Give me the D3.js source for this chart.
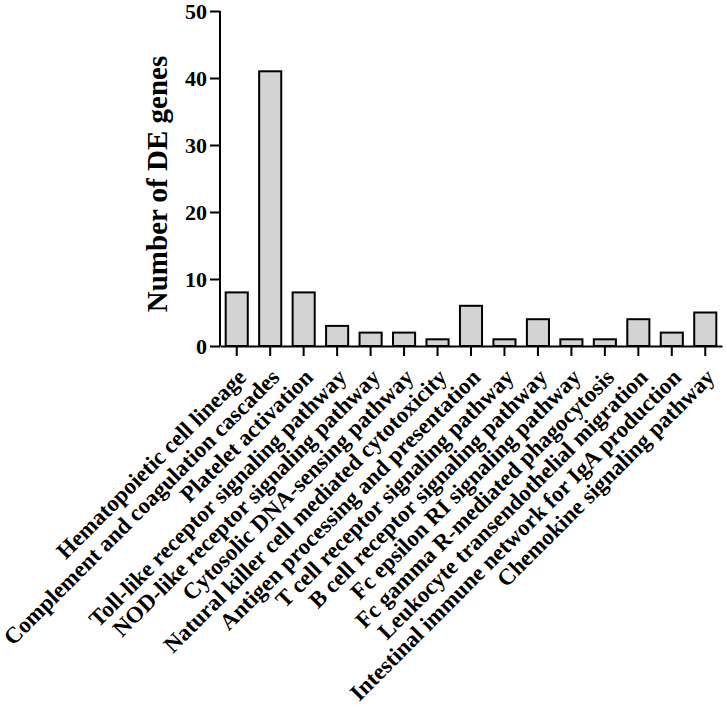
<!DOCTYPE html>
<html>
<head>
<meta charset="utf-8">
<script src="https://cdn.jsdelivr.net/npm/d3@7"></script>
<style>
  body { margin: 0; background: #fff; }
  text { font-family: "Liberation Serif", "Times New Roman", serif; font-weight: bold; }
</style>
</head>
<body>
<div id="chart"></div>
<script>
var categories = [
    "Hematopoietic cell lineage",
    "Complement and coagulation cascades",
    "Platelet activation",
    "Toll-like receptor signaling pathway",
    "NOD-like receptor signaling pathway",
    "Cytosolic DNA-sensing pathway",
    "Natural killer cell mediated cytotoxicity",
    "Antigen processing and presentation",
    "T cell receptor signaling pathway",
    "B cell receptor signaling pathway",
    "Fc epsilon RI signaling pathway",
    "Fc gamma R-mediated phagocytosis",
    "Leukocyte transendothelial migration",
    "Intestinal immune network for IgA production",
    "Chemokine signaling pathway"
];
var counts = [8, 41, 8, 3, 2, 2, 1, 6, 1, 4, 1, 1, 4, 2, 5];
var yTicks = [0, 10, 20, 30, 40, 50];

function init() {
    var w = 726, h = 709;
    var left = 220, right = 722, top = 11, bottom = 346;

    var svg = d3.select("#chart").append("svg")
        .attr("width", w)
        .attr("height", h);

    var xscale = d3.scaleBand()
        .domain(categories)
        .range([left, right])
        .paddingInner(0.34)
        .paddingOuter(0.17);

    var yscale = d3.scaleLinear()
        .domain([0, 50])
        .range([bottom, top]);

    // bars
    svg.selectAll("rect")
        .data(counts)
        .enter()
        .append("rect")
        .attr("x", function(d, i) { return xscale(categories[i]); })
        .attr("y", function(d) { return yscale(d); })
        .attr("width", xscale.bandwidth())
        .attr("height", function(d) { return bottom - yscale(d); })
        .attr("fill", "#d3d3d3")
        .attr("stroke", "#000")
        .attr("stroke-width", 2);

    // y axis
    var yAxis = d3.axisLeft(yscale)
        .tickValues(yTicks)
        .tickSize(10)
        .tickPadding(3);

    var gy = svg.append("g")
        .attr("transform", "translate(" + left + ",0)")
        .call(yAxis);
    gy.select(".domain").attr("stroke-width", 2).attr("d", "M0," + top + "V" + bottom);
    gy.selectAll(".tick line").attr("stroke-width", 2);
    gy.selectAll(".tick text")
        .attr("font-size", 22)
        .attr("fill", "#000");

    // x axis
    var xAxis = d3.axisBottom(xscale)
        .tickSize(10)
        .tickSizeOuter(0);

    var gx = svg.append("g")
        .attr("transform", "translate(0," + bottom + ")")
        .call(xAxis);
    gx.select(".domain").attr("stroke-width", 2);
    gx.selectAll(".tick line").attr("stroke-width", 2);
    gx.selectAll(".tick text").remove();

    svg.selectAll(".xlabel")
        .data(categories)
        .enter()
        .append("text")
        .attr("class", "xlabel")
        .attr("transform", function(d) {
            var x = xscale(d) + xscale.bandwidth() / 2 + 5;
            return "translate(" + x + "," + (bottom + 27) + ") rotate(-45)";
        })
        .attr("text-anchor", "end")
        .attr("dy", "0.35em")
        .attr("font-size", 23)
        .attr("fill", "#000")
        .text(function(d) { return d; });

    // y title
    svg.append("text")
        .attr("transform", "translate(167,184) rotate(-90)")
        .attr("text-anchor", "middle")
        .attr("font-size", 29)
        .attr("fill", "#000")
        .text("Number of DE genes");
}

window.onload = init;
</script>
</body>
</html>
